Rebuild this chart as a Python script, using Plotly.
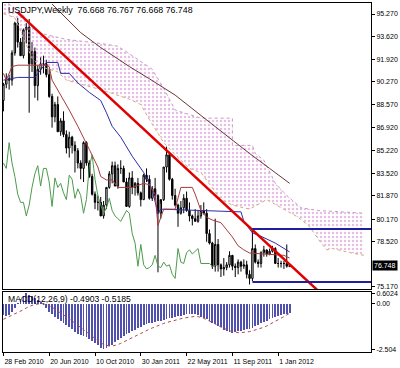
import plotly.graph_objects as go
import pandas as pd

start = pd.Timestamp("2010-02-28")
weeks = pd.date_range(start, periods=130, freq="7D")

# ---- weekly USDJPY candles (28 Feb 2010 .. 29 Jan 2012) ----
opens = [88.9, 90.1, 90.5, 90.4, 92.4, 94.6, 93.2, 92.2, 94.1, 94.3,
         91.6, 92.5, 90.0, 91.2, 91.6, 91.6, 90.8, 89.2, 87.7, 88.6,
         86.6, 87.4, 86.4, 85.4, 86.2, 85.6, 85.2, 84.3, 83.9, 85.8,
         84.3, 83.3, 82.0, 81.4, 81.4, 80.4, 81.2, 82.5, 83.5, 84.1,
         82.6, 83.9, 83.9, 82.9, 81.1, 83.2, 82.5, 82.8, 82.1, 81.6,
         83.4, 83.1, 81.7, 82.4, 81.9, 80.6, 81.6, 84.0, 84.9, 83.1,
         81.9, 81.2, 80.6, 81.0, 81.7, 80.8, 80.4, 80.2, 80.0, 80.4,
         80.8, 80.6, 79.1, 78.4, 76.7, 78.3, 76.8, 76.5, 76.6, 76.8,
         77.5, 76.7, 76.6, 77.0, 76.7, 76.8, 76.1, 75.8, 78.0, 77.0,
         76.9, 77.7, 77.9, 77.6, 77.8, 78.0, 76.9, 76.9, 76.9, 76.9,
         76.668]
highs = [90.2, 90.9, 90.8, 92.6, 94.7, 94.98, 93.5, 94.2, 94.6, 94.9,
         93.2, 92.8, 91.5, 92.1, 92.2, 91.9, 91.2, 89.4, 88.8, 89.2,
         87.6, 88.1, 86.7, 86.6, 86.3, 85.9, 85.4, 84.5, 85.9, 85.9,
         84.5, 83.5, 82.2, 81.9, 81.8, 81.5, 82.5, 83.7, 84.4, 84.4,
         84.2, 84.5, 84.1, 83.2, 83.6, 83.7, 82.9, 83.2, 82.2, 83.5,
         83.9, 83.4, 82.6, 83.2, 82.0, 81.3, 84.0, 85.5, 85.1, 83.2,
         82.4, 81.3, 81.5, 82.0, 82.2, 81.4, 80.5, 80.9, 80.8, 81.2,
         81.4, 80.9, 79.4, 78.5, 80.2, 78.7, 76.9, 77.3, 77.0, 77.8,
         77.5, 76.9, 77.2, 77.1, 77.2, 77.1, 76.4, 79.5, 78.3, 77.2,
         77.8, 78.2, 77.9, 78.0, 78.2, 78.1, 77.3, 77.1, 77.1, 78.3,
         76.767]
lows = [88.1, 89.8, 89.7, 90.0, 92.2, 92.8, 92.2, 92.0, 93.1, 88.0,
        91.0, 89.1, 88.9, 90.8, 90.9, 90.6, 89.1, 86.9, 87.3, 86.6,
        86.3, 86.2, 85.0, 84.7, 85.0, 83.6, 83.9, 83.1, 82.9, 84.1,
        83.2, 81.9, 80.9, 80.8, 80.4, 80.2, 80.9, 82.4, 82.8, 82.6,
        82.4, 83.5, 82.9, 81.1, 81.0, 82.0, 81.9, 81.9, 81.1, 81.6,
        82.9, 81.6, 81.5, 81.6, 76.25, 80.2, 81.5, 83.6, 83.0, 81.6,
        81.1, 79.6, 80.5, 80.6, 80.7, 80.0, 79.7, 80.0, 79.9, 80.2,
        80.5, 78.5, 78.3, 76.5, 76.3, 76.3, 75.9, 76.0, 76.4, 76.6,
        76.4, 75.9, 76.1, 76.3, 76.5, 75.8, 75.35, 75.6, 76.9, 76.6,
        76.6, 77.4, 77.4, 77.5, 77.7, 76.9, 76.6, 76.6, 76.5, 76.6,
        76.668]
closes = [90.1, 90.5, 90.4, 92.4, 94.6, 93.2, 92.2, 94.1, 94.3, 91.6,
          92.5, 90.0, 91.2, 91.6, 91.6, 90.8, 89.2, 87.7, 88.6, 86.6,
          87.4, 86.4, 85.4, 86.2, 85.6, 85.2, 84.3, 83.9, 85.8, 84.3,
          83.3, 82.0, 81.4, 81.4, 80.4, 81.2, 82.5, 83.5, 84.1, 82.6,
          83.9, 83.9, 82.9, 81.1, 83.2, 82.5, 82.8, 82.1, 81.6, 83.4,
          83.1, 81.7, 82.4, 81.9, 80.6, 81.6, 84.0, 84.9, 83.1, 81.9,
          81.2, 80.6, 81.0, 81.7, 80.8, 80.4, 80.2, 80.0, 80.4, 80.8,
          80.6, 79.1, 78.4, 76.7, 78.3, 76.8, 76.5, 76.6, 76.8, 77.5,
          76.7, 76.6, 77.0, 76.7, 76.8, 76.1, 75.8, 78.0, 77.0, 76.9,
          77.7, 77.9, 77.6, 77.8, 78.0, 76.9, 76.9, 76.9, 76.9, 76.7,
          76.748]
bar_dates = weeks[:len(closes)]

# ---- Ichimoku lines (week index, price) ----
tenkan_w = [0, 1, 3, 5, 15, 16, 17, 19, 20, 21, 23, 26, 28, 30, 33, 34, 36, 38, 40, 45,
            49, 51, 53, 54, 56, 60, 62, 66, 67, 69, 71, 73, 76, 78, 80, 82, 84, 86, 96, 98, 100]
tenkan_v = [90.9, 90.4, 91.4, 91.5, 91.5, 91.4, 90.4, 89.7, 89.3, 88.9, 88.2, 87.0, 86.2, 85.3,
            84.0, 83.3, 83.05, 83.05, 82.5, 82.5, 82.8, 82.7, 82.0, 79.7, 80.9, 80.9, 82.5, 82.5,
            82.0, 80.8, 80.3, 80.1, 79.9, 79.4, 78.85, 78.2, 77.9, 77.67, 77.53, 77.5, 77.3]
kijun_w = [0, 5, 11, 15, 19, 20, 23, 26, 30, 34, 36, 38, 41, 45, 49, 52, 54, 55, 83, 84, 87, 90, 95, 98, 100]
kijun_v = [90.4, 90.6, 90.6, 91.7, 91.7, 90.9, 90.9, 90.2, 89.5, 88.9, 88.0, 87.0, 86.2, 84.8,
           83.6, 82.3, 80.6, 80.9, 80.7, 80.0, 79.15, 78.9, 78.4, 78.0, 77.75]
spanB_w = [0, 6, 12, 22, 34, 40, 45, 52, 56, 60, 69, 80, 80, 87, 88, 91, 95, 99, 104, 110, 126]
spanB_v = [96.3, 95.4, 93.9, 93.4, 93.1, 92.9, 92.2, 91.2, 89.8, 88.2, 87.6, 87.6, 85.6, 85.6,
           85.0, 84.5, 82.8, 81.9, 81.0, 80.8, 80.6]
spanA_w = [0, 4, 7, 10, 13, 19, 22, 30, 34, 44, 48, 51, 56, 60, 65, 69, 76, 80, 86, 92, 97,
           103, 107, 111, 113, 115, 121, 126]
spanA_v = [95.3, 95.0, 93.5, 92.0, 91.4, 91.0, 90.4, 89.9, 89.7, 89.0, 88.6, 87.5, 85.8, 84.9,
           83.9, 83.6, 81.6, 81.2, 80.9, 81.6, 81.0, 80.3, 79.6, 78.4, 77.9, 78.0, 77.7, 77.5]
chikou_shift = 26
ma_w = [17, 27, 34, 44, 51, 60, 69, 78, 86, 93, 100]
ma_v = [96.0, 93.9, 92.8, 91.4, 90.5, 89.3, 87.8, 86.3, 85.0, 83.9, 82.8]

# ---- drawn objects ----
trend_w = [5, 110]
trend_v = [95.39, 74.88]
box_w = [87, 129]
box_hi = 79.44
box_lo = 75.54

# ---- MACD(12,26,9) ----
macd_vals = [-0.60, -0.68, -0.62, -0.45, -0.25, 0.05, 0.30, 0.45, 0.60, 0.50,
             0.42, 0.35, 0.20, 0.08, -0.05, -0.25, -0.42, -0.58, -0.70, -0.85,
             -0.95, -1.04, -1.18, -1.30, -1.40, -1.55, -1.65, -1.72, -1.80, -1.85,
             -1.95, -2.05, -2.15, -2.28, -2.42, -2.50, -2.45, -2.35, -2.25, -2.12,
             -2.00, -1.90, -1.78, -1.68, -1.60, -1.50, -1.42, -1.33, -1.25, -1.18,
             -1.12, -1.08, -1.04, -1.00, -0.96, -0.92, -0.88, -0.85, -0.80, -0.76,
             -0.72, -0.68, -0.65, -0.60, -0.57, -0.56, -0.56, -0.58, -0.62, -0.70,
             -0.78, -0.86, -0.95, -1.04, -1.12, -1.20, -1.30, -1.42, -1.50, -1.56,
             -1.59, -1.58, -1.52, -1.48, -1.45, -1.41, -1.36, -1.31, -1.22, -1.14,
             -1.08, -1.00, -0.94, -0.86, -0.78, -0.72, -0.67, -0.63, -0.58, -0.55,
             -0.49]
signal_vals = [-0.85, -0.78, -0.70, -0.62, -0.55, -0.48, -0.40, -0.32, -0.22, -0.14,
               -0.08, -0.03, 0.01, 0.02, 0.01, -0.03, -0.10, -0.18, -0.28, -0.38,
               -0.48, -0.58, -0.70, -0.82, -0.94, -1.06, -1.18, -1.32, -1.45, -1.58,
               -1.70, -1.82, -1.94, -2.05, -2.15, -2.24, -2.30, -2.33, -2.33, -2.30,
               -2.25, -2.18, -2.10, -2.00, -1.92, -1.85, -1.76, -1.68, -1.60, -1.53,
               -1.46, -1.40, -1.33, -1.26, -1.20, -1.14, -1.08, -1.03, -0.98, -0.94,
               -0.90, -0.86, -0.82, -0.78, -0.75, -0.72, -0.70, -0.69, -0.70, -0.74,
               -0.80, -0.87, -0.94, -1.02, -1.10, -1.19, -1.28, -1.36, -1.42, -1.48,
               -1.53, -1.57, -1.59, -1.59, -1.58, -1.56, -1.53, -1.49, -1.45, -1.40,
               -1.35, -1.29, -1.22, -1.14, -1.06, -0.98, -0.90, -0.80, -0.70, -0.61,
               -0.52]

price_ticks = [95.27, 93.62, 91.92, 90.27, 88.57, 86.92, 85.22, 83.52, 81.87, 80.17, 78.52, 75.17]
macd_ticks = [0.6024, 0.0, -2.504]
macd_tick_text = ["0.6024", "0.00", "-2.504"]
date_tick_w = [0, 16, 32, 48, 64, 80, 96]
date_tick_text = ["28 Feb 2010", "20 Jun 2010", "10 Oct 2010", "30 Jan 2011",
                  "22 May 2011", "11 Sep 2011", "1 Jan 2012"]
title_text = "USDJPY,Weekly  76.668 76.767 76.668 76.748"
macd_text = "MACD(12,26,9) -0.4903 -0.5185"
last_price = closes[-1]

FONT = "Liberation Sans"
fig = go.Figure()

def wk(lst):
    return [weeks[i] for i in lst]

# cloud
fig.add_trace(go.Scatter(x=wk(spanB_w), y=spanB_v, mode="lines",
                         line=dict(color="#c89ac8", width=1, dash="dot"),
                         hoverinfo="skip", showlegend=False))
fig.add_trace(go.Scatter(x=wk(spanA_w), y=spanA_v, mode="lines",
                         line=dict(color="#d2aa78", width=1, dash="dot"),
                         fill="tonexty", fillcolor="rgba(0,0,0,0)",
                         fillpattern=dict(shape=".", fgcolor="#c880c8", size=4, solidity=0.3),
                         hoverinfo="skip", showlegend=False))
# moving average
fig.add_trace(go.Scatter(x=wk(ma_w), y=ma_v, mode="lines",
                         line=dict(color="#6e3434", width=1), showlegend=False))
# chikou
fig.add_trace(go.Scatter(x=list(weeks[:len(closes) - chikou_shift]), y=closes[chikou_shift:],
                         mode="lines", line=dict(color="#4e9a4e", width=1), showlegend=False))
# kijun, tenkan
fig.add_trace(go.Scatter(x=wk(kijun_w), y=kijun_v, mode="lines",
                         line=dict(color="#2c2ca6", width=1), showlegend=False))
fig.add_trace(go.Scatter(x=wk(tenkan_w), y=tenkan_v, mode="lines",
                         line=dict(color="#a83a3a", width=1), showlegend=False))
# candles
fig.add_trace(go.Candlestick(x=list(bar_dates), open=opens, high=highs, low=lows, close=closes,
                             increasing=dict(line=dict(color="black", width=1), fillcolor="white"),
                             decreasing=dict(line=dict(color="black", width=1), fillcolor="black"),
                             whiskerwidth=0, showlegend=False))
# trendline
fig.add_trace(go.Scatter(x=wk(trend_w), y=trend_v, mode="lines",
                         line=dict(color="#e00000", width=2.5), showlegend=False))
# box lines
for lvl in (box_hi, box_lo):
    fig.add_trace(go.Scatter(x=wk(box_w), y=[lvl, lvl], mode="lines",
                             line=dict(color="#1e1e9e", width=2), showlegend=False))

# MACD
fig.add_trace(go.Bar(x=list(bar_dates), y=macd_vals, xaxis="x2", yaxis="y2",
                     marker=dict(color="#5050b0", line=dict(width=0)),
                     width=2.0 * 86400000, showlegend=False))
fig.add_trace(go.Scatter(x=list(bar_dates), y=signal_vals, xaxis="x2", yaxis="y2", mode="lines",
                         line=dict(color="#b04848", width=1, dash="dot"), showlegend=False))

x0 = start - pd.Timedelta(days=1)
x1 = start + pd.Timedelta(days=899)
axis_common = dict(showgrid=False, zeroline=False, showline=True, linecolor="black",
                   linewidth=1, mirror=True, automargin=False)
fig.update_layout(
    width=400, height=368,
    margin=dict(l=3, r=29, t=3, b=16),
    paper_bgcolor="white", plot_bgcolor="white",
    font=dict(family=FONT, size=7, color="black"),
    showlegend=False,
    bargap=0,
    xaxis=dict(domain=[0, 1], range=[x0, x1], type="date", anchor="y",
               showticklabels=False, ticks="", rangeslider=dict(visible=False), **axis_common),
    yaxis=dict(domain=[0.1805, 1], range=[75.02, 96.08], side="right", anchor="x",
               tickvals=price_ticks, ticktext=[f"{v:.3f}" for v in price_ticks],
               ticks="outside", ticklen=3, tickcolor="black",
               tickfont=dict(size=7, family=FONT), **axis_common),
    xaxis2=dict(domain=[0, 1], range=[x0, x1], type="date", anchor="y2", matches="x",
                tickvals=wk(date_tick_w), ticktext=date_tick_text, tickangle=0,
                ticklabelposition="outside right", ticklabelstandoff=3,
                ticks="outside", ticklen=3, tickcolor="black",
                tickfont=dict(size=7, family=FONT), **axis_common),
    yaxis2=dict(domain=[0, 0.1719], range=[-2.66, 0.66], side="right", anchor="x2",
                tickvals=macd_ticks, ticktext=macd_tick_text,
                ticks="outside", ticklen=3, tickcolor="black",
                tickfont=dict(size=7, family=FONT), **axis_common),
)

fig.add_annotation(text=title_text, xref="x domain", yref="y domain", x=0, y=1,
                   xanchor="left", yanchor="top", xshift=3, yshift=0, showarrow=False,
                   font=dict(size=8.8, family=FONT, color="black"))
fig.add_annotation(text=macd_text, xref="x2 domain", yref="y2 domain", x=0, y=1,
                   xanchor="left", yanchor="top", xshift=3, yshift=0, showarrow=False,
                   font=dict(size=8.6, family=FONT, color="black"))
fig.add_annotation(text=f"{last_price:.3f}", xref="x domain", yref="y", x=1, y=last_price,
                   xanchor="left", yanchor="middle", xshift=1, showarrow=False,
                   bgcolor="black", font=dict(size=7, family=FONT, color="white"),
                   borderpad=1)

fig.write_html("out.html")
